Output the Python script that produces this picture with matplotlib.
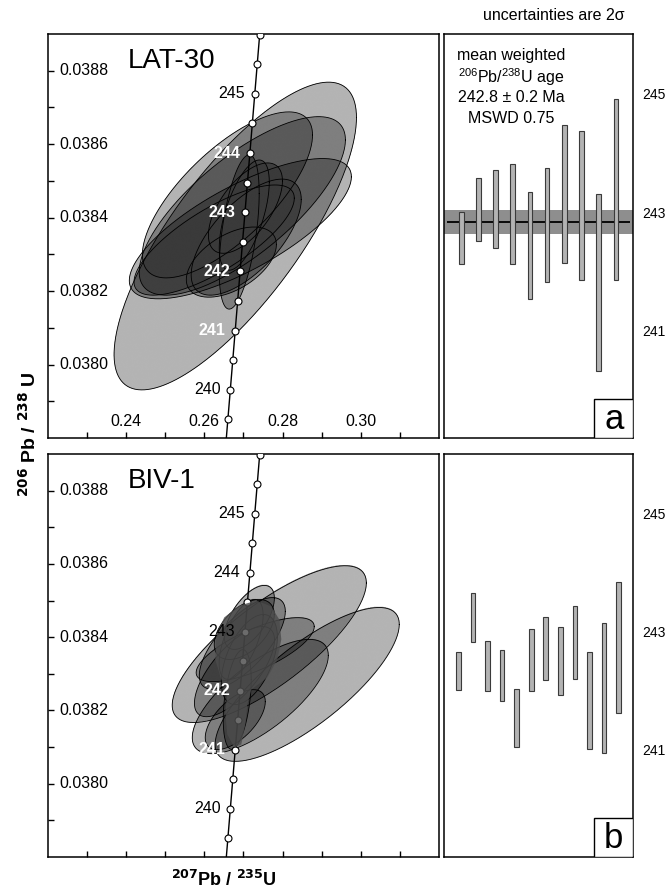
import numpy as np
import matplotlib
matplotlib.use("Agg")
import matplotlib.pyplot as plt
import matplotlib.transforms as mtransforms
from matplotlib.patches import Polygon, Rectangle

plt.rcParams["font.family"] = ["Liberation Sans", "DejaVu Sans"]
plt.rcParams["mathtext.default"] = "regular"

L238 = 1.55125e-10
L235 = 9.8485e-10
XLIM = (0.22, 0.32)
YLIM = (0.0378, 0.0389)

conc_ages = np.arange(239.5, 246.01, 0.5)
label_ages = [240, 241, 242, 243, 244, 245]
white_a = [241, 242, 243, 244]
white_b = [241, 242]

# LAT-30: 207Pb/235U, 206Pb/238U, 2s(x), 2s(y), rho
a_x = [0.2679, 0.2692, 0.2659, 0.2697, 0.2707, 0.2689, 0.2705, 0.2669, 0.2625, 0.2702]
a_y = [0.03835, 0.03837, 0.038462, 0.038432, 0.038347, 0.038361, 0.038426, 0.038279, 0.038339, 0.038407]
a_sx = [0.0310, 0.0284, 0.02176, 0.02637, 0.01408, 0.00512, 0.00947, 0.01152, 0.0205, 0.0064]
a_sy = [0.000419, 0.000191, 0.000226, 0.000243, 0.000158, 0.00021, 0.000123, 0.0000955, 0.00015, 0.00015]
a_rho = [0.77, 0.74, 0.72, 0.74, 0.65, 0.5, 0.6, 0.5, 0.76, 0.6]

# BIV-1
b_x = [0.2766, 0.2863, 0.2743, 0.2730, 0.2715, 0.2697, 0.2702, 0.2684, 0.2715, 0.2677, 0.2694, 0.2679]
b_y = [0.038381, 0.038271, 0.038238, 0.038366, 0.038454, 0.038383, 0.038421, 0.03823, 0.038339, 0.038306, 0.038394, 0.038175]
b_sx = [0.02483, 0.02355, 0.0174, 0.0151, 0.0064, 0.011, 0.00768, 0.00358, 0.00717, 0.01024, 0.00563, 0.00768]
b_sy = [0.000214, 0.00021, 0.000156, 0.0000873, 0.0000873, 0.000125, 0.0000818, 0.000136, 0.000123, 0.000123, 0.000109, 0.0000818]
b_rho = [0.78, 0.78, 0.72, 0.72, 0.6, 0.7, 0.5, 0.4, 0.5, 0.7, 0.6, 0.6]

# grain image overlay in BIV-1 panel (outline)
blob_x = [0.27328, 0.27712, 0.27917, 0.27968, 0.27866, 0.27610, 0.27200, 0.27098, 0.27046,
          0.26944, 0.26765, 0.26586, 0.26534, 0.26586, 0.26432, 0.26278, 0.26304, 0.26509, 0.26893]
blob_y = [0.038500, 0.038484, 0.038448, 0.038394, 0.038339, 0.038290, 0.038257, 0.038216, 0.038162,
          0.038107, 0.038099, 0.038135, 0.038197, 0.038244, 0.038285, 0.038339, 0.038407, 0.038454, 0.038486]

# weighted mean ages (Ma), 2s bars
a_hi = [243.00, 243.58, 243.72, 243.81, 243.34, 243.74, 244.48, 244.37, 243.30, 244.92]
a_lo = [242.13, 242.51, 242.40, 242.13, 241.54, 241.82, 242.14, 241.86, 240.31, 241.86]
a_mean, a_err = 242.83, 0.2
b_hi = [242.65, 243.65, 242.84, 242.69, 242.03, 243.05, 243.25, 243.08, 243.43, 242.65, 243.15, 243.85]
b_lo = [242.01, 242.83, 242.00, 241.83, 241.05, 242.00, 242.18, 241.92, 242.19, 241.02, 240.94, 241.63]

fig = plt.figure(figsize=(6.71, 8.93), dpi=100)
axA = fig.add_axes([0.0715, 0.5095, 0.5827, 0.4524])
axB = fig.add_axes([0.0715, 0.0403, 0.5827, 0.4513])
axAr = fig.add_axes([0.6617, 0.5095, 0.2817, 0.4524])
axBr = fig.add_axes([0.6617, 0.0403, 0.2817, 0.4513])


def concordia_panel(ax, xs, ys, sxs, sys_, rhos, white, name, xlabels):
    gx = np.linspace(XLIM[0], XLIM[1], 900)
    gy = np.linspace(YLIM[0], YLIM[1], 900)
    X, Y = np.meshgrid(gx, gy)
    cnt = np.zeros_like(X)
    t = np.linspace(0, 2 * np.pi, 300)
    for cx, cy, sx, sy, r in zip(xs, ys, sxs, sys_, rhos):
        dx = (X - cx) / sx
        dy = (Y - cy) / sy
        cnt += ((dx * dx - 2 * r * dx * dy + dy * dy) / (1 - r * r)) <= 1
        ex = cx + sx * np.cos(t)
        ey = cy + sy * (r * np.cos(t) + np.sqrt(1 - r * r) * np.sin(t))
        ax.plot(ex, ey, color="k", lw=0.6, zorder=3)
    shade = np.where(cnt > 0, np.maximum(0.706 ** cnt, 0.23), np.nan)
    ax.imshow(shade, extent=[XLIM[0], XLIM[1], YLIM[0], YLIM[1]], origin="lower",
              cmap="gray", vmin=0, vmax=1, aspect="auto", interpolation="antialiased", zorder=1)

    tt = np.linspace(239.0, 246.5, 200) * 1e6
    ax.plot(np.expm1(L235 * tt), np.expm1(L238 * tt), color="k", lw=1.0, zorder=4)
    ax.plot(np.expm1(L235 * conc_ages * 1e6), np.expm1(L238 * conc_ages * 1e6), "o",
            ms=5, mfc="white", mec="k", mew=0.8, zorder=5)
    for a in label_ages:
        px, py = np.expm1(L235 * a * 1e6), np.expm1(L238 * a * 1e6)
        w = a in white
        ax.annotate(str(a), (px, py), xytext=(-7, 0), textcoords="offset points",
                    ha="right", va="center", fontsize=11.5,
                    color="white" if w else "black", fontweight="bold" if w else "normal", zorder=7)

    ax.set_xlim(*XLIM)
    ax.set_ylim(*YLIM)
    ax.set_xticks(np.arange(0.23, 0.315, 0.01))
    ax.set_yticks(np.arange(0.0379, 0.03885, 0.0001))
    ax.set_xticklabels([])
    ax.set_yticklabels([])
    ax.tick_params(direction="in", length=4.5, width=1.0)
    for s in ax.spines.values():
        s.set_linewidth(1.1)
    tyl = mtransforms.blended_transform_factory(ax.transAxes, ax.transData)
    for v in [0.0380, 0.0382, 0.0384, 0.0386, 0.0388]:
        ax.text(0.028, v, f"{v:.4f}", transform=tyl, ha="left", va="center", fontsize=11.5, zorder=8)
    if xlabels:
        txl = mtransforms.blended_transform_factory(ax.transData, ax.transAxes)
        for v in [0.24, 0.26, 0.28, 0.30]:
            ax.text(v, 0.04, f"{v:.2f}", transform=txl, ha="center", va="center", fontsize=11.5, zorder=8)
    ax.text(0.203, 0.916, name, transform=ax.transAxes, ha="left", va="baseline", fontsize=20)


concordia_panel(axA, a_x, a_y, a_sx, a_sy, a_rho, white_a, "LAT-30", True)
concordia_panel(axB, b_x, b_y, b_sx, b_sy, b_rho, white_b, "BIV-1", False)
axB.add_patch(Polygon(np.column_stack([blob_x, blob_y]), closed=True, facecolor="#4c4c4c",
                      edgecolor="none", alpha=0.82, zorder=6))


def age_panel(ax, hi, lo, width, letter, mean=None, err=None):
    hi = np.array(hi)
    lo = np.array(lo)
    idx = np.arange(1, len(hi) + 1)
    if mean is not None:
        ax.axhspan(mean - err, mean + err, color="#8e8e8e", lw=0, zorder=1)
        ax.hlines(mean, 0.15, len(hi) + 0.85, color="k", lw=1.3, zorder=2)
    ax.bar(idx, hi - lo, bottom=lo, width=width, color="#b3b3b3", edgecolor="#3a3a3a",
           lw=0.8, zorder=3)
    ax.set_xlim(0, len(hi) + 1)
    ax.set_ylim(np.log1p(YLIM[0]) / L238 / 1e6, np.log1p(YLIM[1]) / L238 / 1e6)
    ax.set_xticks([])
    ax.yaxis.tick_right()
    ax.set_yticks([241, 243, 245])
    ax.tick_params(axis="y", length=0, pad=7, labelsize=10)
    for s in ax.spines.values():
        s.set_linewidth(1.1)
    ax.add_patch(Rectangle((0.796, 0), 0.204, 0.097, transform=ax.transAxes,
                           facecolor="white", edgecolor="k", lw=1.0, zorder=5))
    ax.text(0.898, 0.045, letter, transform=ax.transAxes, ha="center", va="center",
            fontsize=25, zorder=6)


age_panel(axAr, a_hi, a_lo, 0.27, "a", a_mean, a_err)
age_panel(axBr, b_hi, b_lo, 0.32, "b")

for yy, s in zip([0.948, 0.894, 0.842, 0.792],
                 ["mean weighted", "$^{206}$Pb/$^{238}$U age", "242.8 ± 0.2 Ma", "MSWD 0.75"]):
    axAr.text(0.357, yy, s, transform=axAr.transAxes, ha="center", va="center", fontsize=11.5)

fig.text(0.825, 0.983, "uncertainties are 2σ", ha="center", va="center", fontsize=11.5)
fig.text(0.043, 0.514, r"$\mathbf{^{206}}$ Pb / $\mathbf{^{238}}$ U", rotation=90, ha="center",
         va="center", fontsize=14, fontweight="bold")
fig.text(0.334, 0.0146, r"$\mathbf{^{207}}$Pb / $\mathbf{^{235}}$U", ha="center", va="center",
         fontsize=13, fontweight="bold")

fig.savefig("out.png", dpi=100)
